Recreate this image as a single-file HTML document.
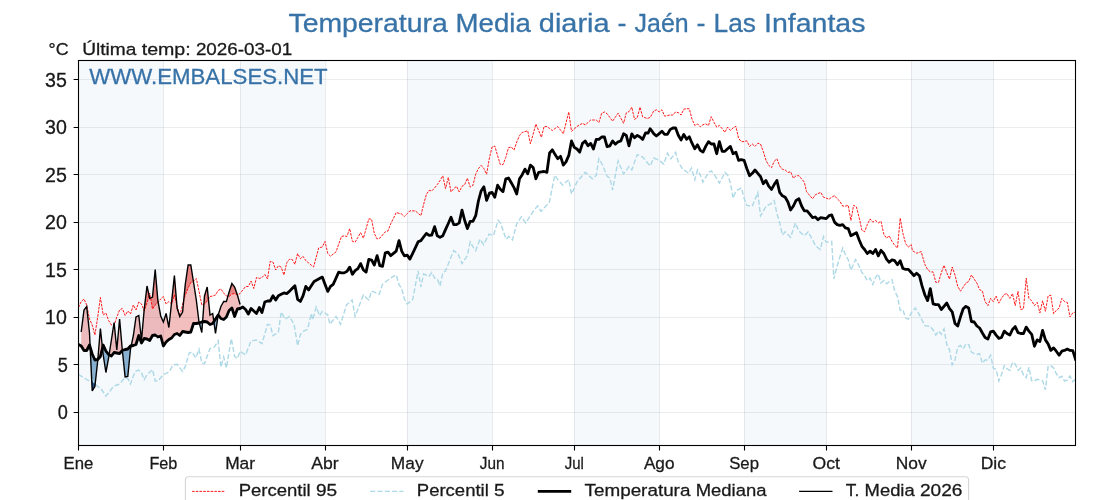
<!DOCTYPE html>
<html><head><meta charset="utf-8"><title>Temperatura Media diaria - Jaén - Las Infantas</title>
<style>
html,body{margin:0;padding:0;background:#fff;}
body{width:1120px;height:500px;overflow:hidden;}
svg{display:block;will-change:transform;font-family:"Liberation Sans",sans-serif;}
</style></head><body>
<svg width="1120" height="500" viewBox="0 0 1120 500">
<defs><clipPath id="ax"><rect x="78.5" y="60.5" width="997" height="385"/></clipPath></defs>
<rect x="0" y="0" width="1120" height="500" fill="#fff"/>
<rect x="78.5" y="60.5" width="84.9" height="385" fill="#f5f9fc"/>
<rect x="240.1" y="60.5" width="84.9" height="385" fill="#f5f9fc"/>
<rect x="407.2" y="60.5" width="84.9" height="385" fill="#f5f9fc"/>
<rect x="574.3" y="60.5" width="84.9" height="385" fill="#f5f9fc"/>
<rect x="744.1" y="60.5" width="82.2" height="385" fill="#f5f9fc"/>
<rect x="911.2" y="60.5" width="82.2" height="385" fill="#f5f9fc"/>
<path d="M163.5 60.5V445.5M240.5 60.5V445.5M325.5 60.5V445.5M407.5 60.5V445.5M492.5 60.5V445.5M574.5 60.5V445.5M659.5 60.5V445.5M744.5 60.5V445.5M826.5 60.5V445.5M911.5 60.5V445.5M993.5 60.5V445.5M78.5 412.5H1075.5M78.5 364.5H1075.5M78.5 317.5H1075.5M78.5 269.5H1075.5M78.5 222.5H1075.5M78.5 174.5H1075.5M78.5 127.5H1075.5M78.5 79.5H1075.5" stroke="rgba(125,135,150,0.16)" stroke-width="1" fill="none"/>
<g clip-path="url(#ax)">
<path d="M81.2 332.0 L84.0 310.0 L86.7 306.5 L89.5 333.0 L90.1 347.2 L90.1 347.2 L89.5 345.0 L86.7 350.5 L84.0 350.5 L81.2 346.0Z" fill="rgba(214,39,40,0.30)"/>
<path d="M97.8 359.3 L100.4 328.5 L102.4 348.0 L102.4 348.0 L100.4 356.5 L97.8 359.3Z" fill="rgba(214,39,40,0.30)"/>
<path d="M109.1 354.8 L111.4 340.0 L114.1 322.5 L116.8 350.0 L119.6 319.0 L122.3 350.0 L122.4 350.5 L122.4 350.5 L122.3 350.5 L119.6 353.5 L116.8 353.0 L114.1 352.5 L111.4 356.0 L109.1 354.8Z" fill="rgba(214,39,40,0.30)"/>
<path d="M131.2 345.9 L133.3 336.0 L136.0 317.0 L138.8 315.5 L141.5 340.0 L144.2 309.5 L147.0 286.0 L149.7 298.5 L152.5 297.0 L155.2 269.5 L157.9 301.0 L160.7 316.0 L162.9 320.8 L163.4 322.0 L166.1 313.5 L168.9 327.5 L171.6 302.0 L173.0 288.8 L174.4 275.5 L177.1 308.0 L179.8 316.5 L182.6 312.0 L185.3 284.0 L188.1 265.0 L189.2 265.0 L190.8 265.0 L192.2 273.5 L193.5 282.0 L195.7 296.4 L196.3 300.0 L199.0 322.0 L199.3 322.9 L199.3 322.9 L199.0 323.0 L196.3 323.5 L195.7 323.5 L193.5 323.5 L192.2 327.8 L190.8 332.0 L189.2 332.3 L188.1 332.5 L185.3 332.0 L182.6 331.5 L179.8 335.5 L177.1 333.5 L174.4 334.5 L173.0 336.2 L171.6 338.0 L168.9 339.5 L166.1 342.0 L163.4 346.0 L162.9 344.0 L160.7 336.0 L157.9 337.0 L155.2 335.0 L152.5 335.5 L149.7 340.5 L147.0 339.0 L144.2 338.5 L141.5 343.0 L138.8 335.5 L136.0 344.5 L133.3 345.5 L131.2 345.9Z" fill="rgba(214,39,40,0.30)"/>
<path d="M202.6 321.9 L204.5 296.0 L207.2 287.0 L210.0 315.0 L212.7 313.5 L213.8 321.7 L213.8 321.7 L212.7 323.5 L210.0 324.5 L207.2 322.0 L204.5 321.5 L202.6 321.9Z" fill="rgba(214,39,40,0.30)"/>
<path d="M218.2 315.0 L220.9 306.5 L223.7 301.5 L226.4 301.5 L229.1 292.0 L231.3 285.2 L231.9 283.5 L234.6 287.0 L237.4 295.0 L240.1 304.5 L240.1 308.5 L237.4 309.0 L234.6 316.5 L231.9 308.0 L231.3 308.5 L229.1 310.5 L226.4 317.0 L223.7 319.5 L220.9 318.5 L218.2 315.0Z" fill="rgba(214,39,40,0.30)"/>
<path d="M113.7 325.4 L114.1 322.5 L114.3 324.8 L114.3 324.8 L114.1 325.5 L113.7 325.4Z" fill="rgba(214,39,40,0.38)"/>
<path d="M144.1 310.7 L144.2 309.5 L147.0 286.0 L149.0 295.4 L149.0 295.4 L147.0 303.0 L144.2 311.0 L144.1 310.7Z" fill="rgba(214,39,40,0.38)"/>
<path d="M150.6 298.0 L152.5 297.0 L155.2 269.5 L157.9 301.0 L158.2 302.2 L158.2 302.2 L157.9 302.5 L155.2 305.0 L152.5 309.0 L150.6 298.0Z" fill="rgba(214,39,40,0.38)"/>
<path d="M171.4 303.8 L171.6 302.0 L173.0 288.8 L174.4 275.5 L176.8 305.0 L176.8 305.0 L174.4 295.0 L173.0 299.5 L171.6 304.0 L171.4 303.8Z" fill="rgba(214,39,40,0.38)"/>
<path d="M183.7 300.2 L185.3 284.0 L188.1 265.0 L189.2 265.0 L190.8 265.0 L192.2 273.5 L193.5 281.5 L193.5 281.5 L192.2 282.0 L190.8 282.5 L189.2 285.8 L188.1 288.0 L185.3 295.0 L183.7 300.2Z" fill="rgba(214,39,40,0.38)"/>
<path d="M203.9 304.2 L204.5 296.0 L207.2 287.0 L208.4 299.1 L208.4 299.1 L207.2 301.0 L204.5 304.0 L203.9 304.2Z" fill="rgba(214,39,40,0.38)"/>
<path d="M227.9 296.3 L229.1 292.0 L231.3 285.2 L231.9 283.5 L234.6 287.0 L237.4 295.0 L237.4 295.0 L234.6 293.5 L231.9 294.0 L231.3 294.5 L229.1 296.5 L227.9 296.3Z" fill="rgba(214,39,40,0.38)"/>
<path d="M90.1 347.2 L92.2 391.0 L94.9 386.5 L97.7 361.0 L97.8 359.3 L97.8 359.3 L97.7 359.5 L94.9 360.0 L92.2 354.0 L90.1 347.2Z" fill="rgba(70,130,180,0.62)"/>
<path d="M102.4 348.0 L103.2 355.0 L105.9 372.5 L108.6 358.0 L109.1 354.8 L109.1 354.8 L108.6 354.5 L105.9 351.0 L103.2 345.0 L102.4 348.0Z" fill="rgba(70,130,180,0.62)"/>
<path d="M122.4 350.5 L125.1 377.0 L127.8 376.5 L130.5 349.0 L131.2 345.9 L131.2 345.9 L130.5 346.0 L127.8 349.0 L125.1 349.5 L122.4 350.5Z" fill="rgba(70,130,180,0.62)"/>
<path d="M199.3 322.9 L201.8 332.5 L202.6 321.9 L202.6 321.9 L201.8 322.0 L199.3 322.9Z" fill="rgba(70,130,180,0.62)"/>
<path d="M213.8 321.7 L214.4 325.5 L215.5 333.5 L218.2 315.0 L218.2 315.0 L215.5 319.0 L214.4 320.8 L213.8 321.7Z" fill="rgba(70,130,180,0.62)"/>
<path d="M91.7 379.8 L92.2 391.0 L94.9 386.5 L95.2 384.2 L95.2 384.2 L94.9 384.0 L92.2 379.5 L91.7 379.8Z" fill="rgba(10,60,120,0.85)"/>
<path d="M78.5 307.5 L81.2 301.5 L84.0 299.0 L86.7 305.0 L89.5 319.0 L92.2 325.0 L94.9 335.0 L97.7 317.0 L100.4 297.5 L103.2 315.0 L105.9 313.0 L108.6 320.5 L111.4 325.0 L114.1 325.5 L116.8 317.0 L119.6 310.0 L122.3 308.5 L125.1 315.5 L127.8 311.0 L130.5 314.0 L133.3 305.0 L136.0 310.0 L138.8 302.0 L141.5 304.0 L144.2 311.0 L147.0 303.0 L149.7 293.0 L152.5 309.0 L155.2 305.0 L157.9 302.5 L160.7 299.0 L163.4 296.5 L166.1 304.0 L168.9 301.5 L171.6 304.0 L174.4 295.0 L177.1 306.0 L179.8 316.0 L182.6 304.0 L185.3 295.0 L188.1 288.0 L190.8 282.5 L193.5 281.5 L196.3 278.5 L199.0 291.0 L201.8 305.0 L204.5 304.0 L207.2 301.0 L210.0 296.5 L212.7 296.0 L215.5 295.0 L218.2 290.5 L220.9 289.0 L223.7 293.0 L226.4 296.0 L229.1 296.5 L231.9 294.0 L234.6 293.5 L237.4 295.0 L240.1 293.5 L242.8 290.0 L245.6 286.5 L248.3 286.5 L251.1 281.0 L253.8 288.5 L256.5 277.5 L259.3 278.5 L262.0 277.5 L264.8 274.5 L267.5 279.0 L270.2 261.5 L273.0 262.1 L275.7 270.0 L278.4 265.7 L281.2 267.1 L283.9 275.0 L286.7 262.9 L289.4 259.3 L292.1 259.3 L294.9 264.3 L297.6 253.6 L300.4 258.6 L303.1 256.4 L305.8 260.7 L308.6 262.9 L309.9 264.0 L311.3 265.2 L313.5 267.0 L314.1 265.0 L316.8 254.9 L318.7 247.9 L319.5 247.7 L322.3 247.0 L325.0 241.4 L327.8 253.5 L330.5 256.2 L333.2 254.1 L336.0 251.9 L338.7 244.2 L341.4 236.6 L344.2 235.8 L346.9 236.5 L349.7 228.6 L352.4 241.4 L355.1 242.2 L357.9 237.4 L360.6 232.6 L363.4 238.2 L366.1 228.6 L368.8 218.9 L371.6 219.3 L374.3 233.4 L377.1 239.0 L379.8 238.2 L382.5 235.0 L385.3 231.8 L388.0 231.0 L390.7 223.8 L393.5 218.2 L396.2 212.5 L399.0 213.3 L401.7 214.1 L404.4 216.5 L407.2 213.7 L409.9 210.9 L412.7 210.9 L415.4 210.9 L418.1 213.3 L420.9 215.7 L423.6 204.5 L426.4 194.3 L429.1 190.3 L431.8 191.0 L434.6 187.9 L437.3 184.6 L440.0 180.6 L442.8 175.8 L445.5 188.7 L448.3 177.4 L451.0 191.9 L453.7 188.7 L456.5 186.3 L459.2 191.9 L462.0 186.3 L464.7 184.6 L467.4 178.2 L470.2 187.1 L472.9 185.4 L475.7 174.2 L478.4 168.6 L481.1 165.4 L483.9 168.6 L486.6 174.2 L489.4 158.1 L492.1 146.9 L494.8 146.1 L497.6 155.7 L500.3 164.6 L503.0 164.6 L505.8 157.3 L508.5 147.7 L511.3 146.9 L514.0 150.1 L516.7 142.1 L519.5 135.6 L522.2 132.4 L525.0 131.6 L527.7 130.8 L530.4 143.7 L533.2 133.9 L535.9 124.1 L538.7 130.7 L541.4 137.3 L544.1 126.5 L546.9 126.5 L549.6 128.5 L552.3 130.5 L555.1 128.5 L557.8 126.5 L560.6 130.2 L563.3 133.8 L566.0 122.9 L568.8 112.0 L571.5 131.3 L574.3 128.9 L577.0 126.5 L579.7 124.9 L582.5 123.3 L585.2 124.9 L588.0 122.5 L590.7 120.0 L593.4 120.0 L596.2 120.0 L598.9 122.5 L601.7 113.2 L604.4 112.0 L607.1 113.7 L609.9 117.5 L612.6 121.2 L615.3 117.2 L618.1 113.2 L620.8 118.2 L623.6 123.3 L626.3 112.9 L629.0 111.6 L631.8 107.2 L634.5 119.3 L637.3 117.7 L640.0 107.2 L642.7 116.9 L645.5 117.9 L647.1 118.5 L648.2 118.1 L650.1 117.5 L651.0 116.0 L653.7 111.0 L656.4 109.8 L659.2 111.9 L661.9 109.8 L664.6 116.2 L667.4 115.6 L670.1 115.0 L672.9 115.0 L675.6 111.9 L678.3 112.7 L681.1 115.0 L683.8 109.1 L686.6 108.7 L689.3 108.7 L692.0 119.1 L694.8 125.5 L697.5 123.9 L700.3 126.8 L703.0 124.7 L705.7 123.9 L708.5 125.5 L711.2 116.7 L714.0 122.3 L716.7 127.1 L719.4 125.5 L722.2 128.7 L724.9 132.3 L727.6 127.1 L730.4 130.4 L733.1 127.9 L735.9 126.3 L738.6 138.4 L741.3 141.6 L744.1 141.6 L746.8 140.8 L749.6 146.4 L752.3 144.0 L755.0 146.4 L757.8 143.2 L760.5 144.0 L763.3 151.6 L766.0 160.4 L768.7 165.3 L771.5 167.7 L774.2 161.3 L776.9 158.8 L779.7 166.0 L782.4 169.3 L785.2 170.0 L787.9 172.5 L790.6 171.7 L793.4 178.1 L796.1 175.7 L798.9 175.7 L801.6 178.9 L804.3 182.1 L806.5 191.6 L807.1 192.3 L809.8 195.6 L812.6 198.8 L815.3 194.8 L818.0 193.5 L820.8 192.4 L823.5 197.2 L826.2 198.0 L829.0 199.3 L831.7 197.2 L834.5 195.6 L837.2 198.8 L839.9 201.3 L842.7 206.1 L845.4 206.1 L848.2 205.3 L850.9 220.5 L853.6 205.3 L856.4 206.9 L859.1 217.3 L861.9 230.2 L864.6 231.8 L867.3 224.6 L870.1 218.9 L872.8 222.1 L875.6 220.5 L878.3 222.9 L881.0 221.3 L883.8 234.2 L886.5 238.2 L889.2 235.8 L892.0 241.4 L894.7 245.4 L897.5 247.9 L900.2 218.1 L902.9 233.4 L905.7 243.8 L908.4 247.1 L911.2 244.6 L912.5 250.8 L913.9 251.6 L916.6 253.2 L919.4 252.3 L921.3 251.6 L922.1 255.0 L924.9 264.6 L927.6 269.5 L930.3 271.9 L933.1 271.9 L935.8 282.3 L938.5 282.3 L941.3 272.7 L944.0 265.4 L946.8 272.7 L949.5 279.1 L952.2 267.0 L955.0 275.0 L957.7 286.3 L960.5 291.2 L963.2 287.1 L965.9 283.1 L968.7 281.5 L971.4 275.0 L974.2 279.1 L976.9 283.1 L979.6 289.6 L982.4 291.2 L985.1 301.6 L987.9 305.6 L990.6 298.4 L993.3 301.6 L996.1 296.0 L998.8 303.2 L1001.5 298.4 L1004.3 294.4 L1007.0 293.6 L1009.8 298.4 L1012.5 293.6 L1015.2 305.6 L1018.0 291.2 L1020.7 309.6 L1023.5 308.8 L1026.2 278.3 L1028.9 298.4 L1031.7 300.8 L1034.4 305.6 L1037.2 302.4 L1039.9 312.9 L1042.6 300.8 L1045.4 311.3 L1048.1 296.0 L1050.8 295.2 L1053.6 313.7 L1056.3 310.4 L1059.1 308.0 L1061.8 298.4 L1064.5 301.6 L1067.3 302.4 L1070.0 316.9 L1072.8 312.9 L1075.5 312.0" fill="none" stroke="#ff0000" stroke-width="0.9" stroke-dasharray="2.6 1.1"/>
<path d="M78.5 374.5 L81.2 376.2 L84.0 378.0 L86.7 379.5 L89.5 381.0 L92.2 379.5 L94.9 384.0 L97.7 386.5 L100.4 388.0 L103.2 392.0 L105.9 396.0 L108.6 393.0 L111.4 389.0 L114.1 386.0 L116.8 385.0 L119.6 384.0 L122.3 380.8 L125.1 377.5 L127.8 378.5 L130.5 384.0 L133.3 376.0 L136.0 371.0 L138.8 370.0 L141.5 373.0 L144.2 379.5 L147.0 375.0 L149.7 372.2 L152.5 369.5 L155.2 381.0 L157.9 381.0 L160.7 377.7 L162.9 375.0 L163.4 374.7 L166.1 373.4 L168.9 372.0 L171.6 367.3 L173.0 365.0 L174.4 364.8 L177.1 364.3 L179.8 367.9 L182.6 371.4 L185.3 366.4 L188.1 356.8 L189.2 353.0 L190.8 352.5 L192.2 352.0 L193.5 354.3 L195.7 358.0 L196.3 356.6 L199.0 349.3 L201.8 363.0 L204.5 363.6 L207.2 356.1 L210.0 348.6 L212.7 347.6 L214.4 347.0 L215.5 345.2 L218.2 340.7 L220.9 367.0 L223.7 357.0 L226.4 368.0 L229.1 351.7 L231.3 338.6 L231.9 341.6 L234.6 356.4 L237.4 358.6 L240.1 351.4 L242.8 353.2 L245.6 355.0 L248.3 347.9 L251.1 340.7 L253.8 340.4 L256.5 340.0 L259.3 341.8 L262.0 343.6 L264.8 334.0 L267.5 324.3 L270.2 325.0 L273.0 335.7 L275.7 333.9 L278.4 332.0 L281.2 312.0 L283.9 316.9 L285.3 319.3 L286.7 318.3 L289.4 316.4 L292.1 321.0 L294.1 324.3 L294.9 329.2 L297.6 345.7 L300.4 334.3 L303.1 331.4 L305.8 330.1 L307.5 329.3 L308.6 324.8 L311.3 313.6 L312.7 320.0 L314.1 315.0 L316.2 307.0 L316.8 308.4 L319.5 315.7 L322.3 311.4 L325.0 313.2 L327.8 315.0 L329.9 324.3 L330.5 323.6 L333.2 320.0 L336.0 316.4 L338.7 321.0 L340.6 324.3 L341.4 321.5 L344.2 312.4 L346.4 305.0 L346.9 304.5 L349.7 302.1 L352.1 300.0 L352.4 301.5 L355.1 316.4 L357.9 309.3 L360.6 302.1 L363.4 295.0 L366.1 297.5 L368.8 300.0 L371.6 291.0 L374.3 292.2 L377.1 293.4 L379.2 294.3 L379.8 292.6 L382.5 284.3 L385.3 282.0 L388.0 280.0 L390.7 278.0 L393.5 276.4 L396.2 274.8 L399.0 284.5 L401.7 288.5 L404.4 299.0 L407.2 304.0 L409.9 301.9 L412.7 299.7 L415.4 285.2 L418.1 270.8 L420.9 286.9 L423.6 274.0 L426.4 275.2 L429.1 276.4 L431.8 272.4 L434.6 278.0 L437.3 278.8 L440.0 286.0 L442.8 273.2 L445.5 270.8 L448.3 263.9 L451.0 257.0 L453.7 250.7 L456.5 252.7 L458.1 253.9 L459.2 256.7 L462.0 263.6 L464.7 259.6 L467.4 255.5 L470.2 241.9 L472.9 246.7 L475.7 250.7 L478.4 243.5 L480.0 239.2 L481.1 240.9 L483.6 244.6 L483.9 244.1 L486.6 238.8 L489.1 234.1 L489.4 234.2 L492.1 235.1 L493.5 235.6 L494.8 231.1 L497.6 222.1 L498.1 220.3 L500.3 222.7 L500.6 223.0 L503.0 230.3 L505.8 238.4 L506.1 239.2 L508.5 236.8 L508.8 236.5 L511.3 238.9 L512.4 240.0 L514.0 234.0 L516.7 223.9 L519.5 219.7 L521.4 216.7 L522.2 217.9 L525.0 221.8 L525.8 223.0 L527.7 220.0 L530.4 215.6 L533.2 211.3 L535.9 207.9 L537.6 205.9 L538.7 207.6 L541.1 211.3 L541.4 211.0 L544.1 208.0 L546.9 205.0 L549.3 202.3 L549.6 201.0 L552.3 187.5 L554.8 175.3 L555.1 175.7 L557.8 179.6 L560.6 182.7 L562.8 185.2 L563.3 184.7 L566.0 182.1 L568.8 179.6 L571.5 194.0 L574.3 188.0 L577.0 182.0 L579.7 178.8 L582.5 175.5 L585.2 172.3 L588.0 174.8 L590.7 177.3 L592.3 178.8 L593.4 177.9 L596.2 175.5 L598.9 158.7 L601.7 163.5 L603.0 165.9 L604.4 169.4 L607.1 176.3 L609.9 178.0 L612.6 190.0 L615.3 175.5 L618.1 161.0 L620.8 167.4 L623.6 173.9 L626.3 170.3 L629.0 166.7 L631.8 169.9 L634.5 162.2 L637.3 154.6 L640.0 155.8 L642.7 157.0 L645.5 160.3 L648.2 163.7 L650.1 166.0 L651.0 164.2 L653.7 158.0 L656.4 159.2 L659.2 160.4 L661.9 162.6 L663.8 164.1 L664.6 161.6 L667.4 153.2 L670.1 157.5 L670.9 158.8 L672.9 156.2 L675.6 152.4 L678.3 162.0 L681.1 166.6 L682.2 168.5 L683.8 169.8 L686.6 171.8 L688.5 173.3 L689.3 171.9 L691.5 168.0 L692.0 169.9 L694.8 179.7 L697.5 170.0 L700.3 174.9 L703.0 182.1 L705.7 177.3 L708.5 172.5 L711.2 170.9 L714.0 174.1 L716.7 178.6 L719.4 183.0 L722.2 177.8 L724.9 172.5 L727.6 174.9 L730.4 183.0 L733.1 198.2 L735.9 191.0 L738.6 189.4 L741.3 187.8 L744.1 198.2 L746.8 205.4 L749.6 205.9 L752.3 206.3 L755.0 199.4 L757.8 192.6 L760.5 215.9 L763.3 211.1 L766.0 206.3 L768.7 204.8 L770.6 203.8 L771.5 203.1 L774.2 200.6 L776.9 213.5 L779.7 222.9 L782.4 235.0 L785.2 231.8 L787.9 234.6 L790.6 237.4 L793.4 228.9 L795.3 222.9 L796.1 224.8 L798.9 231.0 L801.6 233.4 L804.3 235.8 L807.1 232.9 L808.2 231.8 L809.8 234.8 L812.6 239.8 L815.3 245.4 L818.0 247.7 L820.2 249.5 L820.8 247.4 L823.5 236.6 L826.2 242.2 L829.0 241.8 L831.7 241.4 L833.9 278.9 L834.5 276.6 L836.4 268.5 L837.2 265.8 L839.9 256.9 L842.7 248.0 L845.4 254.8 L848.2 259.6 L850.9 270.0 L853.6 263.9 L855.6 259.6 L856.4 261.1 L859.1 266.0 L861.9 272.5 L864.6 275.7 L867.3 280.5 L870.1 278.1 L872.8 284.5 L875.6 277.3 L878.3 274.1 L881.0 283.0 L883.8 280.5 L886.5 283.7 L889.2 281.7 L892.0 279.7 L894.7 291.0 L897.5 296.6 L900.2 310.4 L902.9 309.6 L905.7 318.3 L908.4 319.2 L911.2 312.9 L913.9 309.6 L915.3 308.0 L916.6 310.3 L919.4 314.8 L922.1 320.4 L924.9 325.6 L927.6 326.0 L930.3 326.3 L933.1 330.0 L935.8 335.1 L938.5 331.1 L941.3 334.3 L944.0 329.0 L946.8 344.7 L949.5 349.6 L952.2 364.8 L955.0 360.0 L957.7 347.1 L960.5 345.5 L963.2 348.8 L965.9 343.9 L968.7 344.7 L971.4 352.0 L974.2 353.6 L976.9 354.4 L979.6 353.6 L982.4 363.2 L985.1 360.0 L987.9 360.0 L990.6 355.2 L993.3 368.0 L996.1 369.6 L998.8 380.9 L1001.5 374.5 L1004.3 365.6 L1007.0 368.8 L1009.8 370.4 L1012.5 362.4 L1015.2 364.0 L1018.0 370.4 L1020.7 368.0 L1023.5 375.3 L1026.2 377.7 L1028.9 367.2 L1031.7 380.9 L1034.4 380.9 L1037.2 379.3 L1039.9 380.1 L1042.6 380.9 L1045.4 389.7 L1048.1 366.4 L1050.8 365.6 L1053.6 368.0 L1056.3 373.7 L1059.1 377.7 L1061.8 376.1 L1064.5 380.9 L1067.3 380.1 L1070.0 376.1 L1072.8 381.7 L1075.5 379.3" fill="none" stroke="#add8e6" stroke-width="1.4" stroke-dasharray="5.1 2.2"/>
<path d="M78.5 344.5 L81.2 346.0 L84.0 350.5 L86.7 350.5 L89.5 345.0 L92.2 354.0 L94.9 360.0 L97.7 359.5 L100.4 356.5 L103.2 345.0 L105.9 351.0 L108.6 354.5 L111.4 356.0 L114.1 352.5 L116.8 353.0 L119.6 353.5 L122.3 350.5 L125.1 349.5 L127.8 349.0 L130.5 346.0 L133.3 345.5 L136.0 344.5 L138.8 335.5 L141.5 343.0 L144.2 338.5 L147.0 339.0 L149.7 340.5 L152.5 335.5 L155.2 335.0 L157.9 337.0 L160.7 336.0 L163.4 346.0 L166.1 342.0 L168.9 339.5 L171.6 338.0 L174.4 334.5 L177.1 333.5 L179.8 335.5 L182.6 331.5 L185.3 332.0 L188.1 332.5 L190.8 332.0 L193.5 323.5 L196.3 323.5 L199.0 323.0 L201.8 322.0 L204.5 321.5 L207.2 322.0 L210.0 324.5 L212.7 323.5 L215.5 319.0 L218.2 315.0 L220.9 318.5 L223.7 319.5 L226.4 317.0 L229.1 310.5 L231.9 308.0 L234.6 316.5 L237.4 309.0 L240.1 308.5 L242.8 307.0 L245.6 309.5 L248.3 314.0 L251.1 308.5 L253.8 311.0 L256.5 313.5 L259.3 307.5 L262.0 312.5 L264.8 302.0 L267.5 301.0 L270.2 301.0 L273.0 295.7 L275.7 300.0 L278.4 295.7 L281.2 294.3 L283.9 292.9 L286.7 293.6 L289.4 291.4 L292.1 288.5 L294.9 285.7 L297.6 299.3 L300.4 301.4 L303.1 295.7 L305.8 286.4 L308.6 290.0 L311.3 285.7 L314.1 281.4 L316.8 280.0 L319.5 278.5 L322.3 277.1 L325.0 284.3 L327.8 291.4 L330.5 286.4 L333.2 284.3 L336.0 278.2 L338.7 272.1 L341.4 272.9 L344.2 272.9 L346.9 271.4 L349.7 267.1 L352.4 274.3 L355.1 270.7 L357.9 268.6 L360.6 263.6 L363.4 270.0 L366.1 272.1 L368.8 259.3 L371.6 260.0 L374.3 265.0 L377.1 255.7 L379.8 265.7 L382.5 266.4 L385.3 252.9 L388.0 252.1 L390.7 255.7 L393.5 253.4 L396.2 251.1 L399.0 240.6 L401.7 251.1 L404.4 255.9 L407.2 255.1 L409.9 259.1 L412.7 253.3 L415.4 247.6 L418.1 241.8 L420.9 240.6 L423.6 237.0 L426.4 233.4 L429.1 235.3 L431.8 235.0 L434.6 226.6 L437.3 235.8 L440.0 237.4 L442.8 235.8 L445.5 229.6 L448.3 223.5 L451.0 217.3 L453.7 224.6 L456.5 224.6 L459.2 222.9 L462.0 210.1 L464.7 220.5 L467.4 228.6 L470.2 221.3 L472.9 221.3 L475.7 215.7 L478.4 201.0 L481.1 191.0 L483.9 186.8 L486.6 200.4 L489.4 193.2 L492.1 192.4 L494.8 197.2 L497.6 185.2 L500.3 189.2 L503.0 191.6 L505.8 178.8 L508.5 178.0 L511.3 182.8 L514.0 187.6 L516.7 194.0 L519.5 178.8 L522.2 174.7 L525.0 169.1 L527.7 173.9 L530.4 165.1 L533.2 167.5 L535.9 178.8 L538.7 172.3 L541.4 171.9 L544.1 171.5 L546.9 172.3 L549.6 153.0 L552.3 149.8 L555.1 154.6 L557.8 158.7 L560.6 156.3 L563.3 165.1 L566.0 161.9 L568.8 155.4 L571.5 141.0 L574.3 147.4 L577.0 149.0 L579.7 152.2 L582.5 143.4 L585.2 141.0 L588.0 145.8 L590.7 143.4 L593.4 149.0 L596.2 139.4 L598.9 139.4 L601.7 137.0 L604.4 137.0 L607.1 146.6 L609.9 145.8 L612.6 141.0 L615.3 144.2 L618.1 141.8 L620.8 141.0 L623.6 133.8 L626.3 135.4 L629.0 145.8 L631.8 133.8 L634.5 137.8 L637.3 135.4 L640.0 137.0 L642.7 139.4 L645.5 133.0 L648.2 133.0 L650.1 128.7 L651.0 129.8 L653.7 133.6 L656.4 136.0 L659.2 133.6 L661.9 131.2 L664.6 134.4 L667.4 134.4 L670.1 129.6 L672.9 128.0 L675.6 128.0 L678.3 135.2 L681.1 140.0 L683.8 134.4 L686.6 139.2 L689.3 136.8 L692.0 143.2 L694.8 148.8 L697.5 144.8 L700.3 150.4 L703.0 152.1 L705.7 146.4 L708.5 141.6 L711.2 144.0 L714.0 144.0 L716.7 153.7 L719.4 141.6 L722.2 151.3 L724.9 151.3 L727.6 148.8 L730.4 146.4 L733.1 153.7 L735.9 152.1 L738.6 160.4 L741.3 159.6 L744.1 160.4 L746.8 168.5 L749.6 175.7 L752.3 173.3 L755.0 170.0 L757.8 173.3 L760.5 176.5 L763.3 183.7 L766.0 180.5 L768.7 186.2 L771.5 189.4 L774.2 184.6 L776.9 180.5 L779.7 192.4 L782.4 195.8 L785.2 197.2 L787.9 202.0 L790.6 210.0 L793.4 206.0 L796.1 200.4 L798.9 198.8 L801.6 206.0 L804.3 210.9 L807.1 210.9 L809.8 214.1 L812.6 217.6 L815.3 217.0 L818.0 219.7 L820.8 217.6 L823.5 218.1 L826.2 218.6 L829.0 215.7 L831.7 214.9 L834.5 222.1 L837.2 224.6 L839.9 225.4 L842.7 224.6 L845.4 227.8 L848.2 228.6 L850.9 235.8 L853.6 234.2 L856.4 232.6 L859.1 239.8 L861.9 246.3 L864.6 249.5 L867.3 253.5 L870.1 251.1 L872.8 253.5 L875.6 249.5 L878.3 255.9 L881.0 250.3 L883.8 253.5 L886.5 259.1 L889.2 262.3 L892.0 259.9 L894.7 260.7 L897.5 264.7 L900.2 260.7 L902.9 268.5 L905.7 269.3 L908.4 269.3 L911.2 272.5 L913.9 275.7 L916.6 273.3 L919.4 275.7 L922.1 286.2 L924.9 295.0 L927.6 300.6 L930.3 288.6 L933.1 303.8 L935.8 304.6 L938.5 304.6 L941.3 309.5 L944.0 306.3 L946.8 303.0 L949.5 308.7 L952.2 311.9 L955.0 323.5 L957.7 326.0 L960.5 316.8 L963.2 308.8 L965.9 306.4 L968.7 308.0 L971.4 321.5 L974.2 322.0 L976.9 326.0 L979.6 328.0 L982.4 333.0 L985.1 337.5 L987.9 339.1 L990.6 331.9 L993.3 331.1 L996.1 335.1 L998.8 338.3 L1001.5 337.5 L1004.3 331.1 L1007.0 333.5 L1009.8 335.1 L1012.5 329.5 L1015.2 326.6 L1018.0 332.7 L1020.7 333.5 L1023.5 333.5 L1026.2 327.1 L1028.9 331.1 L1031.7 334.3 L1034.4 346.3 L1037.2 339.9 L1039.9 341.5 L1042.6 330.3 L1045.4 339.9 L1048.1 343.9 L1050.8 350.4 L1053.6 347.9 L1056.3 351.2 L1059.1 355.2 L1061.8 351.2 L1064.5 350.4 L1067.3 349.1 L1070.0 350.4 L1072.8 350.7 L1075.5 359.2" fill="none" stroke="#000" stroke-width="2.8" stroke-linejoin="round" stroke-linecap="square"/>
<path d="M81.2 332.0 L84.0 310.0 L86.7 306.5 L89.5 333.0 L92.2 391.0 L94.9 386.5 L97.7 361.0 L100.4 328.5 L103.2 355.0 L105.9 372.5 L108.6 358.0 L111.4 340.0 L114.1 322.5 L116.8 350.0 L119.6 319.0 L122.3 350.0 L125.1 377.0 L127.8 376.5 L130.5 349.0 L133.3 336.0 L136.0 317.0 L138.8 315.5 L141.5 340.0 L144.2 309.5 L147.0 286.0 L149.7 298.5 L152.5 297.0 L155.2 269.5 L157.9 301.0 L160.7 316.0 L163.4 322.0 L166.1 313.5 L168.9 327.5 L171.6 302.0 L174.4 275.5 L177.1 308.0 L179.8 316.5 L182.6 312.0 L185.3 284.0 L188.1 265.0 L190.8 265.0 L193.5 282.0 L196.3 300.0 L199.0 322.0 L201.8 332.5 L204.5 296.0 L207.2 287.0 L210.0 315.0 L212.7 313.5 L215.5 333.5 L218.2 315.0 L220.9 306.5 L223.7 301.5 L226.4 301.5 L229.1 292.0 L231.9 283.5 L234.6 287.0 L237.4 295.0 L240.1 304.5" fill="none" stroke="#000" stroke-width="1.4" stroke-linejoin="miter" stroke-miterlimit="3"/>
</g>
<rect x="78.5" y="60.5" width="997" height="385" fill="none" stroke="#000" stroke-width="1.1"/>
<path d="M78.5 445.5v4.9M163.5 445.5v4.9M240.5 445.5v4.9M325.5 445.5v4.9M407.5 445.5v4.9M492.5 445.5v4.9M574.5 445.5v4.9M659.5 445.5v4.9M744.5 445.5v4.9M826.5 445.5v4.9M911.5 445.5v4.9M993.5 445.5v4.9M78.5 412.5h-4.9M78.5 364.5h-4.9M78.5 317.5h-4.9M78.5 269.5h-4.9M78.5 222.5h-4.9M78.5 174.5h-4.9M78.5 127.5h-4.9M78.5 79.5h-4.9" stroke="#000" stroke-width="1.1" fill="none"/>
<g opacity="0.9">
<text x="78.5" y="468.8" font-size="17.34" textLength="29.8" lengthAdjust="spacingAndGlyphs" text-anchor="middle" fill="#000" stroke="#000" stroke-width="0.3">Ene</text>
<text x="163.4" y="468.8" font-size="17.34" textLength="28.0" lengthAdjust="spacingAndGlyphs" text-anchor="middle" fill="#000" stroke="#000" stroke-width="0.3">Feb</text>
<text x="240.1" y="468.8" font-size="17.34" textLength="29.9" lengthAdjust="spacingAndGlyphs" text-anchor="middle" fill="#000" stroke="#000" stroke-width="0.3">Mar</text>
<text x="325.0" y="468.8" font-size="17.34" textLength="27.4" lengthAdjust="spacingAndGlyphs" text-anchor="middle" fill="#000" stroke="#000" stroke-width="0.3">Abr</text>
<text x="407.2" y="468.8" font-size="17.34" textLength="32.7" lengthAdjust="spacingAndGlyphs" text-anchor="middle" fill="#000" stroke="#000" stroke-width="0.3">May</text>
<text x="492.1" y="468.8" font-size="17.34" textLength="24.7" lengthAdjust="spacingAndGlyphs" text-anchor="middle" fill="#000" stroke="#000" stroke-width="0.3">Jun</text>
<text x="574.3" y="468.8" font-size="17.34" textLength="19.1" lengthAdjust="spacingAndGlyphs" text-anchor="middle" fill="#000" stroke="#000" stroke-width="0.3">Jul</text>
<text x="659.2" y="468.8" font-size="17.34" textLength="30.6" lengthAdjust="spacingAndGlyphs" text-anchor="middle" fill="#000" stroke="#000" stroke-width="0.3">Ago</text>
<text x="744.1" y="468.8" font-size="17.34" textLength="29.8" lengthAdjust="spacingAndGlyphs" text-anchor="middle" fill="#000" stroke="#000" stroke-width="0.3">Sep</text>
<text x="826.2" y="468.8" font-size="17.34" textLength="27.4" lengthAdjust="spacingAndGlyphs" text-anchor="middle" fill="#000" stroke="#000" stroke-width="0.3">Oct</text>
<text x="911.2" y="468.8" font-size="17.34" textLength="30.9" lengthAdjust="spacingAndGlyphs" text-anchor="middle" fill="#000" stroke="#000" stroke-width="0.3">Nov</text>
<text x="993.3" y="468.8" font-size="17.34" textLength="25.3" lengthAdjust="spacingAndGlyphs" text-anchor="middle" fill="#000" stroke="#000" stroke-width="0.3">Dic</text>
<text x="67.9" y="419.1" font-size="19.83" textLength="10.1" lengthAdjust="spacingAndGlyphs" text-anchor="end" fill="#000" stroke="#000" stroke-width="0.3">0</text>
<text x="67.9" y="371.6" font-size="19.83" textLength="10.1" lengthAdjust="spacingAndGlyphs" text-anchor="end" fill="#000" stroke="#000" stroke-width="0.3">5</text>
<text x="66.9" y="324.1" font-size="19.83" textLength="21.8" lengthAdjust="spacingAndGlyphs" text-anchor="end" fill="#000" stroke="#000" stroke-width="0.3">10</text>
<text x="66.9" y="276.6" font-size="19.83" textLength="21.8" lengthAdjust="spacingAndGlyphs" text-anchor="end" fill="#000" stroke="#000" stroke-width="0.3">15</text>
<text x="66.9" y="229.2" font-size="19.83" textLength="21.8" lengthAdjust="spacingAndGlyphs" text-anchor="end" fill="#000" stroke="#000" stroke-width="0.3">20</text>
<text x="66.9" y="181.7" font-size="19.83" textLength="21.8" lengthAdjust="spacingAndGlyphs" text-anchor="end" fill="#000" stroke="#000" stroke-width="0.3">25</text>
<text x="66.9" y="134.2" font-size="19.83" textLength="21.8" lengthAdjust="spacingAndGlyphs" text-anchor="end" fill="#000" stroke="#000" stroke-width="0.3">30</text>
<text x="66.9" y="86.7" font-size="19.83" textLength="21.8" lengthAdjust="spacingAndGlyphs" text-anchor="end" fill="#000" stroke="#000" stroke-width="0.3">35</text>
<text x="288.5" y="32.0" font-size="26.00" textLength="159.2" lengthAdjust="spacingAndGlyphs" text-anchor="start" fill="#23649f" stroke="#23649f" stroke-width="0.3">Temperatura</text>
<text x="455.6" y="32.0" font-size="26.00" textLength="75.2" lengthAdjust="spacingAndGlyphs" text-anchor="start" fill="#23649f" stroke="#23649f" stroke-width="0.3">Media</text>
<text x="538.8" y="32.0" font-size="26.00" textLength="70.8" lengthAdjust="spacingAndGlyphs" text-anchor="start" fill="#23649f" stroke="#23649f" stroke-width="0.3">diaria</text>
<text x="617.6" y="32.0" font-size="26.00" textLength="9.0" lengthAdjust="spacingAndGlyphs" text-anchor="start" fill="#23649f" stroke="#23649f" stroke-width="0.3">-</text>
<text x="634.6" y="32.0" font-size="26.00" textLength="54.0" lengthAdjust="spacingAndGlyphs" text-anchor="start" fill="#23649f" stroke="#23649f" stroke-width="0.3">Jaén</text>
<text x="696.6" y="32.0" font-size="26.00" textLength="9.0" lengthAdjust="spacingAndGlyphs" text-anchor="start" fill="#23649f" stroke="#23649f" stroke-width="0.3">-</text>
<text x="713.6" y="32.0" font-size="26.00" textLength="42.4" lengthAdjust="spacingAndGlyphs" text-anchor="start" fill="#23649f" stroke="#23649f" stroke-width="0.3">Las</text>
<text x="764.0" y="32.0" font-size="26.00" textLength="101.5" lengthAdjust="spacingAndGlyphs" text-anchor="start" fill="#23649f" stroke="#23649f" stroke-width="0.3">Infantas</text>
<text x="89.3" y="84.0" font-size="22.66" textLength="238.4" lengthAdjust="spacingAndGlyphs" text-anchor="start" fill="#23649f" stroke="#23649f" stroke-width="0.3">WWW.EMBALSES.NET</text>
<text x="48.6" y="55.0" font-size="17.34" textLength="20.0" lengthAdjust="spacingAndGlyphs" text-anchor="start" fill="#000" stroke="#000" stroke-width="0.3">°C</text>
<text x="82.2" y="55.0" font-size="17.34" textLength="54.2" lengthAdjust="spacingAndGlyphs" text-anchor="start" fill="#000" stroke="#000" stroke-width="0.3">Última</text>
<text x="141.7" y="55.0" font-size="17.34" textLength="49.0" lengthAdjust="spacingAndGlyphs" text-anchor="start" fill="#000" stroke="#000" stroke-width="0.3">temp:</text>
<text x="195.9" y="55.0" font-size="17.34" textLength="96.4" lengthAdjust="spacingAndGlyphs" text-anchor="start" fill="#000" stroke="#000" stroke-width="0.3">2026-03-01</text>
</g>
<rect x="185.4" y="476.8" width="783.2" height="31.3" rx="3.3" fill="rgba(255,255,255,0.8)" stroke="rgba(204,204,204,0.8)" stroke-width="1.1"/>
<path d="M192.1 491.4H225.4" stroke="#ff0000" stroke-width="0.9" stroke-dasharray="2.6 1.1"/>
<path d="M370.2 491.4H403.5" stroke="#add8e6" stroke-width="1.4" stroke-dasharray="5.1 2.2"/>
<path d="M537.8 491.4H571.2" stroke="#000" stroke-width="2.8"/>
<path d="M799.1 491.4H832.5" stroke="#000" stroke-width="1.4"/>
<g opacity="0.9">
<text x="238.7" y="496.0" font-size="17.34" textLength="72.0" lengthAdjust="spacingAndGlyphs" text-anchor="start" fill="#000" stroke="#000" stroke-width="0.3">Percentil</text>
<text x="316.0" y="496.0" font-size="17.34" textLength="21.2" lengthAdjust="spacingAndGlyphs" text-anchor="start" fill="#000" stroke="#000" stroke-width="0.3">95</text>
<text x="416.8" y="496.0" font-size="17.34" textLength="72.0" lengthAdjust="spacingAndGlyphs" text-anchor="start" fill="#000" stroke="#000" stroke-width="0.3">Percentil</text>
<text x="494.1" y="496.0" font-size="17.34" textLength="10.6" lengthAdjust="spacingAndGlyphs" text-anchor="start" fill="#000" stroke="#000" stroke-width="0.3">5</text>
<text x="584.5" y="496.0" font-size="17.34" textLength="105.9" lengthAdjust="spacingAndGlyphs" text-anchor="start" fill="#000" stroke="#000" stroke-width="0.3">Temperatura</text>
<text x="695.7" y="496.0" font-size="17.34" textLength="70.8" lengthAdjust="spacingAndGlyphs" text-anchor="start" fill="#000" stroke="#000" stroke-width="0.3">Mediana</text>
<text x="845.8" y="496.0" font-size="17.34" textLength="13.5" lengthAdjust="spacingAndGlyphs" text-anchor="start" fill="#000" stroke="#000" stroke-width="0.3">T.</text>
<text x="864.6" y="496.0" font-size="17.34" textLength="50.1" lengthAdjust="spacingAndGlyphs" text-anchor="start" fill="#000" stroke="#000" stroke-width="0.3">Media</text>
<text x="920.0" y="496.0" font-size="17.34" textLength="42.4" lengthAdjust="spacingAndGlyphs" text-anchor="start" fill="#000" stroke="#000" stroke-width="0.3">2026</text>
</g>
</svg>
</body></html>
